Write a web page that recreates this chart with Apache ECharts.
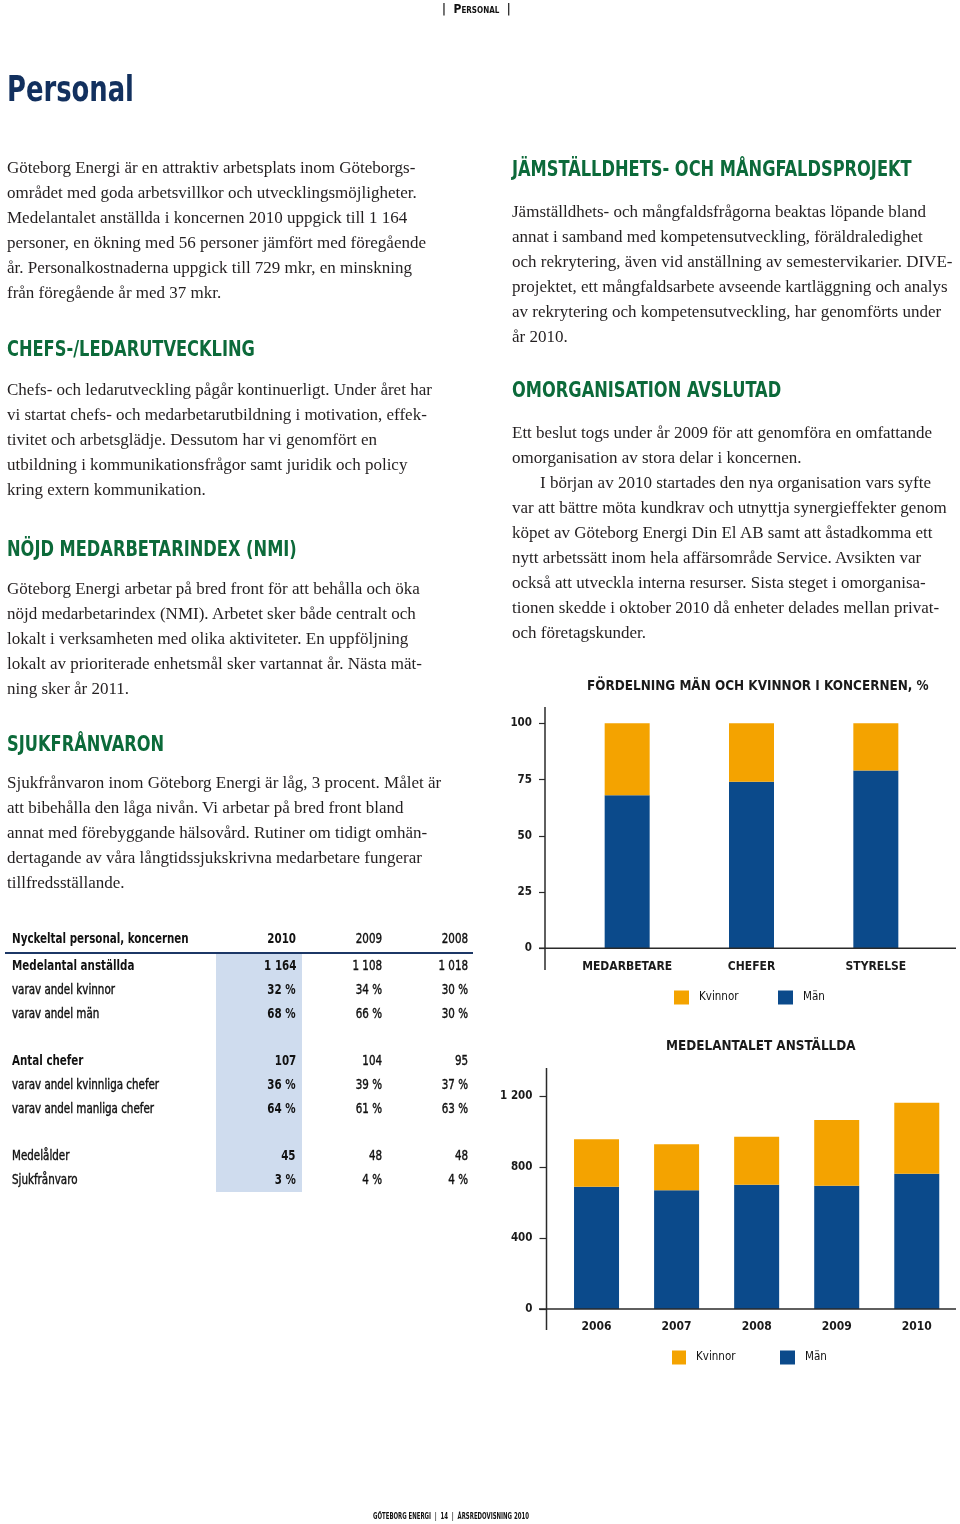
<!DOCTYPE html>
<html>
<head>
<meta charset="utf-8">
<script src="https://cdn.jsdelivr.net/npm/echarts@6/dist/echarts.min.js"></script>
<style>
  html, body { margin:0; padding:0; background:#fff; }
  #page { position:relative; width:960px; height:1524px; overflow:hidden; background:#fff; }
  #chart { position:absolute; left:0; top:0; width:960px; height:1524px; }
  .narrow { font-family:'DejaVu Sans Condensed','DejaVu Sans',sans-serif; white-space:nowrap; }
  .para { position:absolute; font-family:'Liberation Serif','Times New Roman',serif; font-size:17px; line-height:25px; color:#231f20; white-space:nowrap; }
  .h2 { position:absolute; font-family:'DejaVu Sans Condensed','DejaVu Sans',sans-serif; font-weight:bold; font-size:21.5px; line-height:21.5px; color:#0c6a3a; white-space:nowrap; transform:scaleX(0.84); transform-origin:0 0; }
  .cell { position:absolute; font-family:'DejaVu Sans Condensed','DejaVu Sans',sans-serif; font-size:14px; line-height:14px; color:#111; white-space:nowrap; transform:scaleX(0.82); }
  .cell.n { -webkit-text-stroke:0.4px #111; }
  .cell.l { transform-origin:0 0; }
  .cell.r { transform-origin:100% 0; }
</style>
</head>
<body>
<div id="page">
  <div id="chart"></div>
</div>
<script>
// ---------- data ----------
const pctCategories = ['MEDARBETARE', 'CHEFER', 'STYRELSE'];
const pctMen = [68, 74, 79];
const pctWomen = [32, 26, 21];

const empYears = ['2006', '2007', '2008', '2009', '2010'];
const empMen = [689, 669, 700, 695, 762];
const empWomen = [267, 259, 271, 370, 400];

const tableTitle = 'Nyckeltal personal, koncernen';
const tableYears = ['2010', '2009', '2008'];
const tableLabels = ['Medelantal anställda', 'varav andel kvinnor', 'varav andel män', '',
  'Antal chefer', 'varav andel kvinnliga chefer', 'varav andel manliga chefer', '',
  'Medelålder', 'Sjukfrånvaro'];
const table2010 = ['1 164', '32 %', '68 %', '', '107', '36 %', '64 %', '', '45', '3 %'];
const table2009 = ['1 108', '34 %', '66 %', '', '104', '39 %', '61 %', '', '48', '4 %'];
const table2008 = ['1 018', '30 %', '30 %', '', '95', '37 %', '63 %', '', '48', '4 %'];
const tableBoldRows = [true, false, false, false, true, false, false, false, false, false];

const introText = [
  'Göteborg Energi är en attraktiv arbetsplats inom Göteborgs-',
  'området med goda arbetsvillkor och utvecklingsmöjligheter.',
  'Medelantalet anställda i koncernen 2010 uppgick till 1 164',
  'personer, en ökning med 56 personer jämfört med föregående',
  'år. Personalkostnaderna uppgick till 729 mkr, en minskning',
  'från föregående år med 37 mkr.'
];
const chefsText = [
  'Chefs- och ledarutveckling pågår kontinuerligt. Under året har',
  'vi startat chefs- och medarbetarutbildning i motivation, effek-',
  'tivitet och arbetsglädje. Dessutom har vi genomfört en',
  'utbildning i kommunikationsfrågor samt juridik och policy',
  'kring extern kommunikation.'
];
const nmiText = [
  'Göteborg Energi arbetar på bred front för att behålla och öka',
  'nöjd medarbetarindex (NMI). Arbetet sker både centralt och',
  'lokalt i verksamheten med olika aktiviteter. En uppföljning',
  'lokalt av prioriterade enhetsmål sker vartannat år. Nästa mät-',
  'ning sker år 2011.'
];
const sjukText = [
  'Sjukfrånvaron inom Göteborg Energi är låg, 3 procent. Målet är',
  'att bibehålla den låga nivån. Vi arbetar på bred front bland',
  'annat med förebyggande hälsovård. Rutiner om tidigt omhän-',
  'dertagande av våra långtidssjukskrivna medarbetare fungerar',
  'tillfredsställande.'
];
const jamText = [
  'Jämställdhets- och mångfaldsfrågorna beaktas löpande bland',
  'annat i samband med kompetensutveckling, föräldraledighet',
  'och rekrytering, även vid anställning av semestervikarier. DIVE-',
  'projektet, ett mångfaldsarbete avseende kartläggning och analys',
  'av rekrytering och kompetensutveckling, har genomförts under',
  'år 2010.'
];
const omorgText = [
  'Ett beslut togs under år 2009 för att genomföra en omfattande',
  'omorganisation av stora delar i koncernen.',
  'I början av 2010 startades den nya organisation vars syfte',
  'var att bättre möta kundkrav och utnyttja synergieffekter genom',
  'köpet av Göteborg Energi Din El AB samt att åstadkomma ett',
  'nytt arbetssätt inom hela affärsområde Service. Avsikten var',
  'också att utveckla interna resurser. Sista steget i omorganisa-',
  'tionen skedde i oktober 2010 då enheter delades mellan privat-',
  'och företagskunder.'
];

// ---------- page text ----------
const page = document.getElementById('page');
function addDiv(cls, html, css) {
  const d = document.createElement('div');
  d.className = cls;
  d.innerHTML = html;
  Object.assign(d.style, css);
  page.appendChild(d);
  return d;
}
function esc(s){ return s.replace(/&/g,'&amp;').replace(/</g,'&lt;'); }
function lines(arr, indentIdx) {
  return arr.map((s, i) => i === indentIdx
    ? '<span style="padding-left:28px">' + esc(s) + '</span>' : esc(s)).join('<br>');
}

addDiv('narrow', '|&nbsp;&nbsp;<span style="font-variant:small-caps">Personal</span>&nbsp;&nbsp;|',
  {position:'absolute', left:'442px', top:'3px', fontSize:'12px', lineHeight:'12px', fontWeight:'bold', color:'#111'});
addDiv('narrow', 'Personal',
  {position:'absolute', left:'7px', top:'72px', fontSize:'35px', lineHeight:'35px', fontWeight:'bold', color:'#12305e',
   transform:'scaleX(0.82)', transformOrigin:'0 0'});

addDiv('para', lines(introText), {left:'7px', top:'155px'});
addDiv('h2', 'CHEFS-/LEDARUTVECKLING', {left:'7px', top:'338px'});
addDiv('para', lines(chefsText), {left:'7px', top:'377px'});
addDiv('h2', 'NÖJD MEDARBETARINDEX (NMI)', {left:'7px', top:'538px'});
addDiv('para', lines(nmiText), {left:'7px', top:'576px'});
addDiv('h2', 'SJUKFRÅNVARON', {left:'7px', top:'733px'});
addDiv('para', lines(sjukText), {left:'7px', top:'770px'});

addDiv('h2', 'JÄMSTÄLLDHETS- OCH MÅNGFALDSPROJEKT', {left:'512px', top:'158px'});
addDiv('para', lines(jamText), {left:'512px', top:'199px'});
addDiv('h2', 'OMORGANISATION AVSLUTAD', {left:'512px', top:'379px'});
addDiv('para', lines(omorgText, 2), {left:'512px', top:'420px'});

addDiv('narrow', 'GÖTEBORG ENERGI&nbsp;&nbsp;|&nbsp;&nbsp;14&nbsp;&nbsp;|&nbsp;&nbsp;ÅRSREDOVISNING 2010',
  {position:'absolute', left:'373px', top:'1513px', fontSize:'8px', lineHeight:'8px', fontWeight:'bold', color:'#111',
   transform:'scaleX(0.75)', transformOrigin:'0 0'});

// ---------- table ----------
addDiv('', '', {position:'absolute', left:'216px', top:'953px', width:'86px', height:'239px', background:'#cfdcee'});
addDiv('', '', {position:'absolute', left:'5px', top:'951.5px', width:'468px', height:'2.5px', background:'#1c3766'});
const colRights = [664, 578, 492];
addDiv('cell l', tableTitle, {left:'12px', top:'931px', fontWeight:'bold'});
tableYears.forEach((y, j) => addDiv('cell r' + (j === 0 ? '' : ' n'), y, {right: colRights[j] + 'px', top:'931px', fontWeight: j === 0 ? 'bold' : 'normal'}));
const cols = [table2010, table2009, table2008];
tableLabels.forEach((lab, i) => {
  if (!lab) return;
  const top = (958 + 23.75 * i) + 'px';
  addDiv('cell l' + (tableBoldRows[i] ? '' : ' n'), esc(lab), {left:'12px', top, fontWeight: tableBoldRows[i] ? 'bold' : 'normal'});
  cols.forEach((c, j) => addDiv('cell r' + (j === 0 ? '' : ' n'), esc(c[i]), {right: colRights[j] + 'px', top, fontWeight: j === 0 ? 'bold' : 'normal'}));
});

// ---------- charts ----------
const NARROW = "'DejaVu Sans Condensed','DejaVu Sans',sans-serif";
const BLUE = '#0b4a8b';
const ORANGE = '#f4a300';
const AXIS = '#2a2a2a';
const fmtThousands = v => String(v).replace(/\B(?=(\d{3})+(?!\d))/g, ' ');

const chart = echarts.init(document.getElementById('chart'), null, {renderer:'canvas'});
const legendBase = {
  itemWidth: 15, itemHeight: 14, icon: 'rect', padding: 0,
  textStyle: {fontFamily: NARROW, fontSize: 11.5, color: '#111', padding: [0, 0, 0, 5]},
  selectedMode: false
};
const catLabel = {fontFamily: NARROW, fontSize: 12, fontWeight: 'bold', color: '#1a1a1a', interval: 0};
chart.setOption({
  animation: false,
  textStyle: {fontFamily: NARROW},
  title: [
    {text: 'FÖRDELNING MÄN OCH KVINNOR I KONCERNEN, %', left: 587, top: 680, padding: 0,
     textStyle: {fontFamily: NARROW, fontSize: 13.4, fontWeight: 'bold', color: '#1a1a1a'}},
    {text: 'MEDELANTALET ANSTÄLLDA', left: 666, top: 1040.5, padding: 0,
     textStyle: {fontFamily: NARROW, fontSize: 13.4, fontWeight: 'bold', color: '#1a1a1a'}}
  ],
  legend: [
    Object.assign({}, legendBase, {data: ['Kvinnor'], left: 674, top: 990.5}),
    Object.assign({}, legendBase, {data: ['Män'], left: 778, top: 990.5}),
    Object.assign({}, legendBase, {data: ['Kvinnor'], left: 672, top: 1350.5, itemWidth: 14}),
    Object.assign({}, legendBase, {data: ['Män'], left: 780, top: 1350.5})
  ],
  grid: [
    {left: 565, top: 723.3, width: 373, height: 225},
    {left: 556.5, top: 1096, width: 400.3, height: 213}
  ],
  xAxis: [
    {type: 'category', gridIndex: 0, data: pctCategories,
     axisLine: {show: false}, axisTick: {show: false},
     axisLabel: Object.assign({margin: 13}, catLabel)},
    {type: 'category', gridIndex: 1, data: empYears,
     axisLine: {show: false}, axisTick: {show: false},
     axisLabel: Object.assign({margin: 12}, catLabel, {fontSize: 12})}
  ],
  yAxis: [
    {type: 'value', gridIndex: 0, min: 0, max: 100, interval: 25, offset: 20,
     axisLine: {show: false}, splitLine: {show: false},
     axisTick: {show: true, length: 6, lineStyle: {color: AXIS, width: 1.2}},
     axisLabel: Object.assign({margin: 13}, catLabel, {fontSize: 11.5})},
    {type: 'value', gridIndex: 1, min: 0, max: 1200, interval: 400, offset: 10,
     axisLine: {show: false}, splitLine: {show: false},
     axisTick: {show: true, length: 7, lineStyle: {color: AXIS, width: 1.2}},
     axisLabel: Object.assign({margin: 14, formatter: fmtThousands}, catLabel, {fontSize: 11.5})}
  ],
  series: [
    {name: 'Män', type: 'bar', stack: 'pct', xAxisIndex: 0, yAxisIndex: 0, data: pctMen,
     barWidth: 45, itemStyle: {color: BLUE}},
    {name: 'Kvinnor', type: 'bar', stack: 'pct', xAxisIndex: 0, yAxisIndex: 0, data: pctWomen,
     barWidth: 45, itemStyle: {color: ORANGE}},
    {name: 'Män', type: 'bar', stack: 'emp', xAxisIndex: 1, yAxisIndex: 1, data: empMen,
     barWidth: 45, itemStyle: {color: BLUE}},
    {name: 'Kvinnor', type: 'bar', stack: 'emp', xAxisIndex: 1, yAxisIndex: 1, data: empWomen,
     barWidth: 45, itemStyle: {color: ORANGE}}
  ],
  graphic: [
    {type: 'line', z: 100, shape: {x1: 545, y1: 707, x2: 545, y2: 970}, style: {stroke: AXIS, lineWidth: 1.5}},
    {type: 'line', z: 100, shape: {x1: 539, y1: 948.3, x2: 956, y2: 948.3}, style: {stroke: AXIS, lineWidth: 1.5}},
    {type: 'line', z: 100, shape: {x1: 546.5, y1: 1068, x2: 546.5, y2: 1330}, style: {stroke: AXIS, lineWidth: 1.5}},
    {type: 'line', z: 100, shape: {x1: 539, y1: 1309, x2: 956, y2: 1309}, style: {stroke: AXIS, lineWidth: 1.5}}
  ]
});
</script>
</body>
</html>
